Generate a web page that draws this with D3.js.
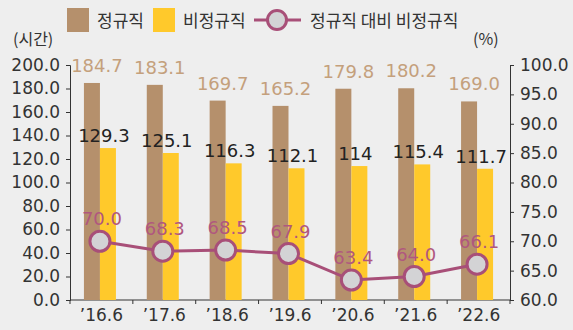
<!DOCTYPE html>
<html>
<head>
<meta charset="utf-8">
<script src="https://cdn.jsdelivr.net/npm/d3@7"></script>
<style>
  html, body { margin: 0; padding: 0; background: #eeeeee; }
  svg { display: block; font-family: "DejaVu Sans", sans-serif; }
</style>
</head>
<body>
<svg id="chart" width="573" height="330"></svg>
<script>
// Working hours by period: regular vs non-regular workers, and the ratio (%)
const periods = ["’16.6", "’17.6", "’18.6", "’19.6", "’20.6", "’21.6", "’22.6"];
const regularHours = [184.7, 183.1, 169.7, 165.2, 179.8, 180.2, 169.0];
const nonRegularHours = [129.3, 125.1, 116.3, 112.1, 114, 115.4, 111.7];
const ratioPct = [70.0, 68.3, 68.5, 67.9, 63.4, 64.0, 66.1];
const regularLabels = ["184.7", "183.1", "169.7", "165.2", "179.8", "180.2", "169.0"];
const nonRegularLabels = ["129.3", "125.1", "116.3", "112.1", "114", "115.4", "111.7"];
const ratioLabels = ["70.0", "68.3", "68.5", "67.9", "63.4", "64.0", "66.1"];
const leftTicks = [0, 20, 40, 60, 80, 100, 120, 140, 160, 180, 200];
const rightTicks = [60, 65, 70, 75, 80, 85, 90, 95, 100];
const legendNames = ["정규직", "비정규직", "정규직 대비 비정규직"];

const C = {
  regular: "#b5906c",
  nonRegular: "#ffc92b",
  line: "#a84f78",
  dot: "#d3d3d5",
  regularText: "#c4a07c",
  ratioText: "#b0577f",
  axis: "#333333",
  text: "#333333"
};

const svg = d3.select("#chart");
const plotLeft = 70, plotRight = 510, plotTop = 65, plotBottom = 300;

const x = d3.scaleBand().domain(periods).range([plotLeft, plotRight]);
const yL = d3.scaleLinear().domain([0, 200]).range([plotBottom, plotTop]);
const yR = d3.scaleLinear().domain([60, 100]).range([plotBottom, plotTop]);
const barW = 16;
const cx = p => x(p) + x.bandwidth() / 2 - 1.5;

// Axes
const axL = svg.append("g").attr("transform", `translate(${plotLeft},0)`)
  .call(d3.axisLeft(yL).tickValues(leftTicks).tickFormat(d3.format(".1f")).tickSize(4).tickPadding(6));
const axR = svg.append("g").attr("transform", `translate(${plotRight},0)`)
  .call(d3.axisRight(yR).tickValues(rightTicks).tickFormat(d3.format(".1f")).tickSize(4).tickPadding(6));
const axB = svg.append("g").attr("transform", `translate(0,${plotBottom})`)
  .call(d3.axisBottom(x).tickSize(0).tickPadding(9));
// boundary ticks between categories on the x axis
axB.selectAll(".bt").data(d3.range(periods.length + 1)).enter().append("line")
  .attr("x1", i => plotLeft + i * x.bandwidth()).attr("x2", i => plotLeft + i * x.bandwidth())
  .attr("y1", 0).attr("y2", 4).attr("stroke", C.axis);
[axL, axR, axB].forEach(g => {
  g.selectAll("path, line").attr("stroke", C.axis).attr("stroke-width", 1);
  g.selectAll("text").attr("fill", C.text).style("font-size", "17px")
    .style("font-family", "'DejaVu Sans', sans-serif");
});
axB.select(".domain").attr("d", `M${plotLeft},0H${plotRight}`);

// Bars
svg.append("g").selectAll("rect").data(periods).enter().append("rect")
  .attr("x", d => cx(d) - barW).attr("width", barW)
  .attr("y", (d, i) => yL(regularHours[i]))
  .attr("height", (d, i) => plotBottom - yL(regularHours[i]))
  .attr("fill", C.regular);
svg.append("g").selectAll("rect").data(periods).enter().append("rect")
  .attr("x", d => cx(d)).attr("width", barW)
  .attr("y", (d, i) => yL(nonRegularHours[i]))
  .attr("height", (d, i) => plotBottom - yL(nonRegularHours[i]))
  .attr("fill", C.nonRegular);

// Ratio line
const line = d3.line().x((d, i) => cx(periods[i])).y(d => yR(d));
svg.append("path").datum(ratioPct).attr("d", line)
  .attr("fill", "none").attr("stroke", C.line).attr("stroke-width", 3);
svg.append("g").selectAll("circle").data(ratioPct).enter().append("circle")
  .attr("cx", (d, i) => cx(periods[i])).attr("cy", d => yR(d)).attr("r", 10)
  .attr("fill", C.dot).attr("stroke", C.line).attr("stroke-width", 3);

// Value labels
const lab = svg.append("g").style("font-size", "18px").attr("text-anchor", "middle");
lab.selectAll(".rl").data(regularHours).enter().append("text")
  .attr("x", (d, i) => cx(periods[i]) - 3).attr("y", d => yL(d) - 11)
  .attr("fill", C.regularText).text((d, i) => regularLabels[i]);
lab.selectAll(".nl").data(nonRegularHours).enter().append("text")
  .attr("x", (d, i) => cx(periods[i]) + 4).attr("y", d => yL(d) - 6)
  .attr("fill", "#222222").text((d, i) => nonRegularLabels[i]);
lab.selectAll(".pl").data(ratioPct).enter().append("text")
  .attr("x", (d, i) => cx(periods[i]) + 2).attr("y", d => yR(d) - 16)
  .attr("fill", C.ratioText).text((d, i) => ratioLabels[i]);

// Axis units
svg.append("text").attr("x", 13).attr("y", 45).attr("fill", C.text)
  .style("font-size", "16px").style("font-family", "'Noto Sans CJK KR', sans-serif").text("(시간)");
svg.append("text").attr("x", 473).attr("y", 45).attr("fill", C.text)
  .style("font-size", "16px").style("font-family", "'Noto Sans CJK KR', sans-serif").text("(%)");

// Legend
const lg = svg.append("g").style("font-size", "17px")
  .style("font-family", "'Noto Sans CJK KR', sans-serif").attr("fill", C.text);
lg.append("rect").attr("x", 67).attr("y", 8).attr("width", 22).attr("height", 24).attr("fill", C.regular);
lg.append("text").attr("x", 97).attr("y", 27).text(legendNames[0]);
lg.append("rect").attr("x", 153).attr("y", 8).attr("width", 22).attr("height", 24).attr("fill", C.nonRegular);
lg.append("text").attr("x", 183).attr("y", 27).text(legendNames[1]);
lg.append("line").attr("x1", 254).attr("x2", 301).attr("y1", 20).attr("y2", 20)
  .attr("stroke", C.line).attr("stroke-width", 3);
lg.append("circle").attr("cx", 277).attr("cy", 20).attr("r", 9.5)
  .attr("fill", C.dot).attr("stroke", C.line).attr("stroke-width", 3);
lg.append("text").attr("x", 310).attr("y", 27).text(legendNames[2]);
</script>
</body>
</html>
